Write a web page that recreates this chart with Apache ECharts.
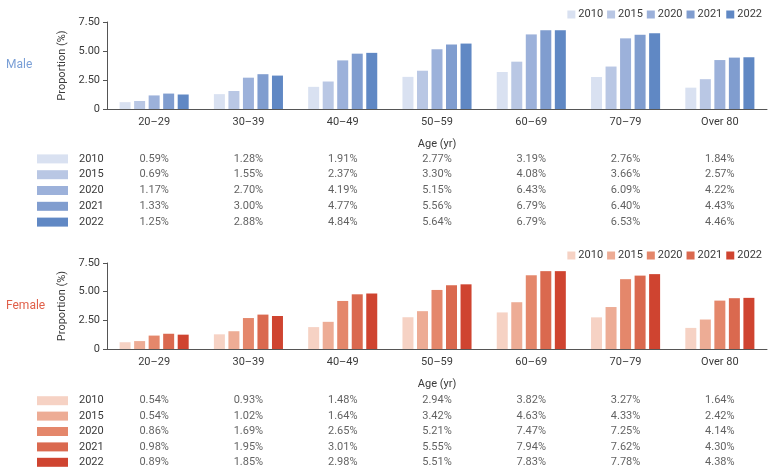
<!DOCTYPE html>
<html>
<head>
<meta charset="utf-8">
<script src="https://cdn.jsdelivr.net/npm/echarts@6/dist/echarts.min.js"></script>
<style>
html,body{margin:0;padding:0;background:#fff;}
#c{width:773px;height:473px;}
</style>
</head>
<body>
<div id="c"></div>
<script>
const categories = ['20–29', '30–39', '40–49', '50–59', '60–69', '70–79', 'Over 80'];
const years = ['2010', '2015', '2020', '2021', '2022'];
const yTicks = [0, 2.5, 5, 7.5];

// Male proportions (%) per year
const male2010 = [0.59, 1.28, 1.91, 2.77, 3.19, 2.76, 1.84];
const male2015 = [0.69, 1.55, 2.37, 3.30, 4.08, 3.66, 2.57];
const male2020 = [1.17, 2.70, 4.19, 5.15, 6.43, 6.09, 4.22];
const male2021 = [1.33, 3.00, 4.77, 5.56, 6.79, 6.40, 4.43];
const male2022 = [1.25, 2.88, 4.84, 5.64, 6.79, 6.53, 4.46];

// Female proportions (%) per year (table)
const female2010 = [0.54, 0.93, 1.48, 2.94, 3.82, 3.27, 1.64];
const female2015 = [0.54, 1.02, 1.64, 3.42, 4.63, 4.33, 2.42];
const female2020 = [0.86, 1.69, 2.65, 5.21, 7.47, 7.25, 4.14];
const female2021 = [0.98, 1.95, 3.01, 5.55, 7.94, 7.62, 4.30];
const female2022 = [0.89, 1.85, 2.98, 5.51, 7.83, 7.78, 4.38];

// Female bar heights as drawn in the reference picture (they match the male heights)
const femaleBar2010 = [0.59, 1.28, 1.91, 2.77, 3.19, 2.76, 1.84];
const femaleBar2015 = [0.69, 1.55, 2.37, 3.30, 4.08, 3.66, 2.57];
const femaleBar2020 = [1.17, 2.70, 4.19, 5.15, 6.43, 6.09, 4.22];
const femaleBar2021 = [1.33, 3.00, 4.77, 5.56, 6.79, 6.40, 4.43];
const femaleBar2022 = [1.25, 2.88, 4.84, 5.64, 6.79, 6.53, 4.46];

const maleTable = [male2010, male2015, male2020, male2021, male2022];
const femaleTable = [female2010, female2015, female2020, female2021, female2022];
const maleBars = maleTable;
const femaleBars = [femaleBar2010, femaleBar2015, femaleBar2020, femaleBar2021, femaleBar2022];

const blues = ['#d9e1f1', '#b9c7e4', '#9cb1da', '#809dcf', '#6088c4'];
const reds = ['#f6d2c4', '#edac95', '#e4876b', '#da694f', '#cf4430'];

const FONT = 'Roboto';
const TXT = '#3a3a3a';
const AX = '#555';
const L = 107, R = 6;

const chart = echarts.init(document.getElementById('c'), null, {renderer: 'canvas'});

function barXAxis(gi) {
  return {
    type: 'category', gridIndex: gi, data: categories,
    name: 'Age (yr)', nameLocation: 'middle', nameGap: 30,
    nameTextStyle: {fontFamily: FONT, fontSize: 11, color: TXT},
    axisLine: {lineStyle: {color: AX, width: 1}},
    axisTick: {alignWithLabel: true, length: 4, lineStyle: {color: AX}},
    axisLabel: {fontFamily: FONT, fontSize: 11, color: TXT, margin: 8}
  };
}
function barYAxis(gi) {
  return {
    type: 'value', gridIndex: gi, min: yTicks[0], max: yTicks[yTicks.length - 1], interval: yTicks[1] - yTicks[0],
    name: 'Proportion (%)', nameLocation: 'middle', nameGap: 31,
    nameTextStyle: {fontFamily: FONT, fontSize: 11, color: TXT},
    axisLine: {show: true, lineStyle: {color: AX, width: 1}},
    axisTick: {show: true, length: 4, lineStyle: {color: AX}},
    splitLine: {show: false},
    axisLabel: {fontFamily: FONT, fontSize: 11, color: TXT, margin: 7,
      formatter: v => v === 0 ? '0' : v.toFixed(2)}
  };
}
function tableXAxis(gi) {
  return {type: 'category', gridIndex: gi, data: categories, show: false};
}
function tableYAxis(gi, colors) {
  const rich = {y: {fontFamily: FONT, fontSize: 11, color: TXT, padding: [0, 0, 0, 11]}};
  colors.forEach((c, i) => { rich['s' + i] = {width: 31, height: 9, backgroundColor: c}; });
  return {
    type: 'category', gridIndex: gi, data: years, inverse: true,
    axisLine: {show: false}, axisTick: {show: false}, splitLine: {show: false},
    axisLabel: {align: 'left', margin: L - 37, interval: 0, hideOverlap: false, rich: rich,
      formatter: (v, i) => '{s' + i + '|}{y|' + v + '}'}
  };
}

const series = [];
function addBars(prefix, bars, colors, gi) {
  years.forEach((yr, i) => {
    series.push({
      name: prefix + yr, type: 'bar', xAxisIndex: gi, yAxisIndex: gi,
      data: bars[i], barWidth: 11, barGap: '32%',
      itemStyle: {color: colors[i]}
    });
  });
}
function addTable(table, gi) {
  const data = [];
  table.forEach((row, yi) => row.forEach((v, ci) => data.push([ci, yi, v])));
  series.push({
    type: 'scatter', xAxisIndex: gi, yAxisIndex: gi, data: data,
    symbolSize: 1, itemStyle: {color: 'rgba(0,0,0,0)'}, silent: true,
    label: {show: true, position: 'inside', fontFamily: FONT, fontSize: 11, color: TXT,
      formatter: p => p.value[2].toFixed(2) + '%'}
  });
}
addBars('M', maleBars, blues, 0);
addBars('F', femaleBars, reds, 1);
addTable(maleTable, 2);
addTable(femaleTable, 3);

function legend(prefix, top) {
  return {
    data: years.map(y => prefix + y), formatter: n => n.slice(1),
    right: R, top: top, itemWidth: 8, itemHeight: 8, itemGap: 4,
    icon: 'rect', textStyle: {fontFamily: FONT, fontSize: 11, color: TXT, padding: [0, 0, 0, -2]},
    selectedMode: false
  };
}

chart.setOption({
  animation: false,
  textStyle: {fontFamily: FONT},
  legend: [legend('M', 4), legend('F', 245)],
  grid: [
    {left: L, right: R, top: 22, height: 87},
    {left: L, right: R, top: 263, height: 86},
    {left: L, right: R, top: 151, height: 79},
    {left: L, right: R, top: 393, height: 77}
  ],
  xAxis: [barXAxis(0), barXAxis(1), tableXAxis(2), tableXAxis(3)],
  yAxis: [barYAxis(0), barYAxis(1), tableYAxis(2, blues), tableYAxis(3, reds)],
  graphic: [
    {type: 'text', left: 6, top: 59, style: {text: 'Male', fontFamily: FONT, fontSize: 12, fill: '#7a9fd6'}},
    {type: 'text', left: 6, top: 300, style: {text: 'Female', fontFamily: FONT, fontSize: 12, fill: '#e0604a'}}
  ],
  series: series
});
</script>
</body>
</html>
